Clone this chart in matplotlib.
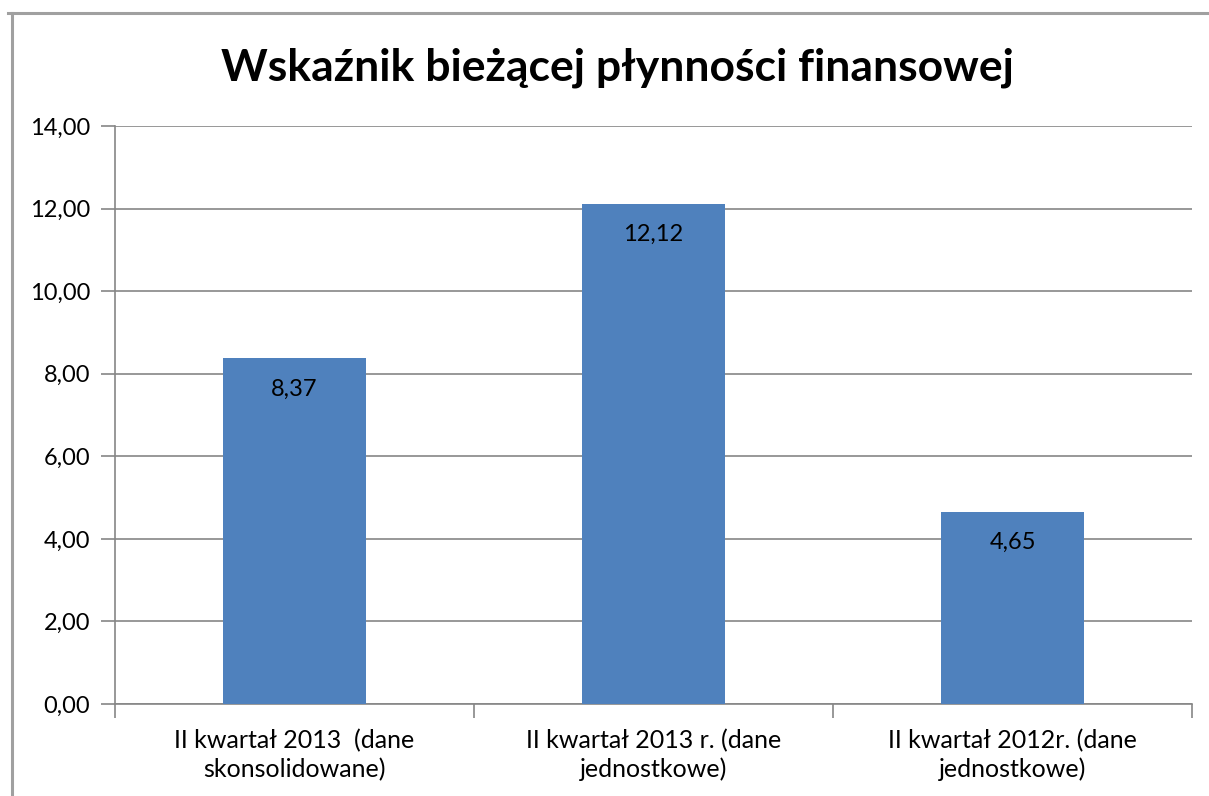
import matplotlib
matplotlib.use("Agg")
import matplotlib.pyplot as plt
from matplotlib.lines import Line2D

categories = ["II kwartał 2013  (dane\nskonsolidowane)",
              "II kwartał 2013 r. (dane\njednostkowe)",
              "II kwartał 2012r. (dane\njednostkowe)"]
values = [8.37, 12.12, 4.65]
value_labels = ["8,37", "12,12", "4,65"]
yticks = [0, 2, 4, 6, 8, 10, 12, 14]
ytick_labels = ["0,00", "2,00", "4,00", "6,00", "8,00", "10,00", "12,00", "14,00"]
title = "Wskaźnik bieżącej płynności finansowej"

plt.rcParams['font.family'] = ['Lato', 'DejaVu Sans']

W, H = 1209, 796
fig = plt.figure(figsize=(W / 100, H / 100), dpi=100)
ax = fig.add_axes([115 / W, 1 - 704 / H, (1192 - 115) / W, (704 - 126) / H])

grid_c = "#868686"
bar_c = "#4F81BD"
x = list(range(len(categories)))
ax.bar(x, values, width=0.4, color=bar_c, zorder=3)
ax.set_xlim(-0.5, 2.5)
ax.set_ylim(0, 14)
ax.set_yticks(yticks)
ax.set_yticklabels(ytick_labels, fontsize=17)
ax.yaxis.grid(True, color=grid_c, linewidth=1.2, zorder=0)
ax.set_axisbelow(True)
ax.set_xticks([-0.5, 0.5, 1.5, 2.5])
ax.set_xticklabels([])
ax.tick_params(axis='x', length=10, color=grid_c, width=1.2)
ax.tick_params(axis='y', length=10, color=grid_c, width=1.2, pad=8)
for s in ['top', 'right']:
    ax.spines[s].set_visible(False)
for s in ['left', 'bottom']:
    ax.spines[s].set_color(grid_c)
    ax.spines[s].set_linewidth(1.2)

for xi, c in zip(x, categories):
    ax.annotate(c, (xi, 0), xytext=(0, -18), textcoords='offset points',
                ha='center', va='top', fontsize=18, linespacing=1.28)

for xi, v, lab in zip(x, values, value_labels):
    ax.annotate(lab, (xi, v), xytext=(0, -22), textcoords='offset points',
                ha='center', va='center', fontsize=17, zorder=4)

fig.text(617 / W, 1 - 68 / H, title, ha='center', va='center',
         fontsize=32, fontweight='bold')

fig.add_artist(Line2D([8 / W, 1], [1 - 13 / H, 1 - 13 / H], transform=fig.transFigure,
                      color="#A0A0A0", linewidth=2.2))
fig.add_artist(Line2D([12 / W, 12 / W], [0, 1 - 13 / H], transform=fig.transFigure,
                      color="#A0A0A0", linewidth=2.2))

fig.savefig("out.png", dpi=100, facecolor="white")
